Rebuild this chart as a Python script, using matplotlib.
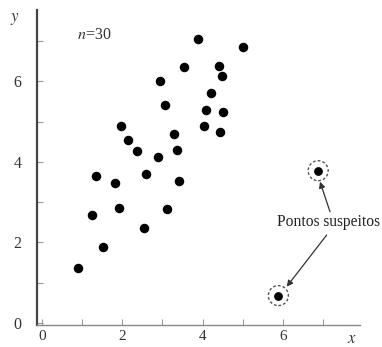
import matplotlib
matplotlib.use("Agg")
import matplotlib.pyplot as plt
from matplotlib.patches import Circle
from matplotlib.ticker import MultipleLocator

plt.rcParams['mathtext.fontset'] = 'stix'
plt.rcParams['font.family'] = ['Liberation Serif', 'DejaVu Serif']

# Data
x_vals = [3.89, 5.01, 3.54, 4.40, 4.47, 2.94, 4.20, 3.05, 4.07, 4.50,
          1.97, 2.14, 2.36, 2.90, 1.34, 2.60, 1.82, 1.92, 1.24, 4.03,
          3.28, 4.44, 3.36, 3.42, 3.12, 2.54, 1.51, 0.89]
y_vals = [7.05, 6.86, 6.36, 6.38, 6.13, 6.00, 5.71, 5.40, 5.28, 5.24,
          4.89, 4.54, 4.28, 4.12, 3.66, 3.70, 3.47, 2.85, 2.67, 4.90,
          4.69, 4.73, 4.29, 3.53, 2.84, 2.35, 1.88, 1.37]
suspect_x = [6.87, 5.88]
suspect_y = [3.78, 0.68]
x_tick_labels = ["0", "2", "4", "6"]
y_tick_labels = ["0", "2", "4", "6"]
annot_label = "Pontos suspeitos"

W, H = 382, 347
fig = plt.figure(figsize=(W / 100, H / 100), dpi=100)
ax = fig.add_axes([37 / W, 1 - 325 / H, (360 - 37) / W, (325 - 10) / H])
ax.set_xlim(-0.12, 7.91)
ax.set_ylim(-0.05, 7.77)

for s in ('top', 'right'):
    ax.spines[s].set_visible(False)
ax.spines['left'].set_color('#444444')
ax.spines['left'].set_linewidth(1.6)
ax.spines['bottom'].set_color('#888888')
ax.spines['bottom'].set_linewidth(1.0)

ax.set_xticks([0, 2, 4, 6])
ax.set_xticklabels(x_tick_labels)
ax.set_yticks([0, 2, 4, 6])
ax.set_yticklabels(y_tick_labels)
ax.xaxis.set_minor_locator(MultipleLocator(1))
ax.yaxis.set_minor_locator(MultipleLocator(1))
ax.tick_params(which='both', direction='in', length=4, width=0.8, color='#999999')
ax.tick_params(axis='x', which='major', labelsize=11, pad=3.5, labelcolor='#333333')
ax.tick_params(axis='y', which='major', labelsize=11.5, pad=11, labelcolor='#333333')

ax.scatter(x_vals, y_vals, s=34, color='black', zorder=3, clip_on=False)
ax.scatter(suspect_x, suspect_y, s=28, color='black', zorder=3, clip_on=False)

# dashed circles around the suspect points (radius in pixels)
for sx, sy in zip(suspect_x, suspect_y):
    px, py = ax.transData.transform((sx, sy))
    c = Circle((px, py), 10, transform=None, fill=False, linestyle=(0, (2, 1.5)),
               edgecolor='#555555', linewidth=1.0, zorder=4)
    fig.patches.append(c)

# annotation text and arrows (figure pixel positions)
def fig_pt(px, py):
    return (px / W, 1 - py / H)

fig.text(*fig_pt(277, 221.7), annot_label, ha='left', va='center',
         fontsize=11.2, color='#222222')
ax.annotate('', xy=fig_pt(320, 181.7), xycoords='figure fraction',
            xytext=fig_pt(330, 211.7), textcoords='figure fraction',
            arrowprops=dict(arrowstyle='-|>', color='#333333', lw=0.9,
                            mutation_scale=9, shrinkA=0, shrinkB=0))
ax.annotate('', xy=fig_pt(286.7, 286.7), xycoords='figure fraction',
            xytext=fig_pt(326.7, 235), textcoords='figure fraction',
            arrowprops=dict(arrowstyle='-|>', color='#333333', lw=0.9,
                            mutation_scale=9, shrinkA=0, shrinkB=0))

fig.text(*fig_pt(94, 35), r'$n$=30', ha='center', va='center',
         fontsize=11.5, color='#333333')
fig.text(*fig_pt(15, 19), r'$y$', ha='center', va='center', fontsize=12, color='#333333')
fig.text(*fig_pt(352, 339), r'$x$', ha='center', va='center', fontsize=12, color='#333333')

fig.savefig('out.png', dpi=100, facecolor='white')
